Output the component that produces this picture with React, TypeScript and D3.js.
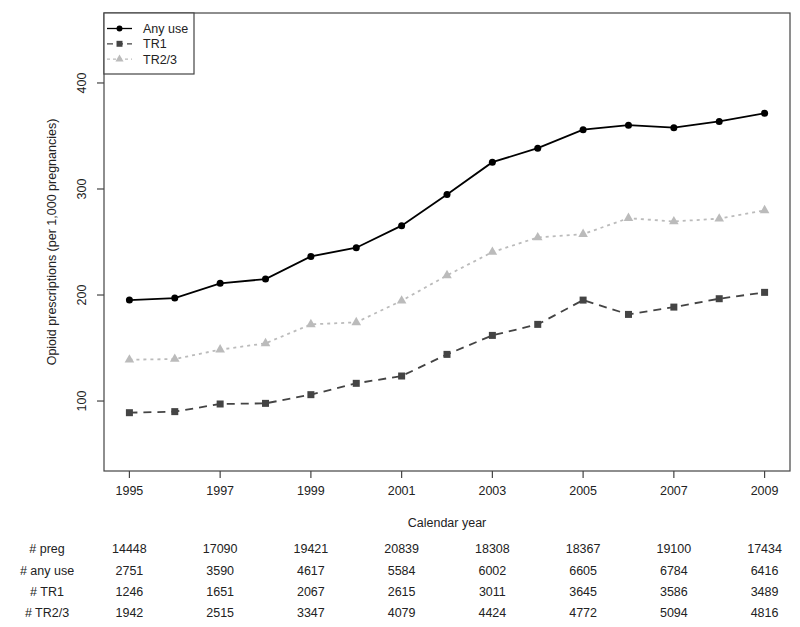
import React from "react";
import * as d3 from "d3";

const years = [1995, 1996, 1997, 1998, 1999, 2000, 2001, 2002, 2003, 2004, 2005, 2006, 2007, 2008, 2009];
const anyUse = [195.2, 197.1, 211, 215, 236.4, 244.6, 265.4, 294.9, 325.3, 338.5, 355.9, 360.2, 357.8, 363.7, 371.5];
const tr1 = [89, 90, 97.2, 97.8, 106, 116.7, 123.6, 144, 161.9, 172.3, 195.2, 181.7, 188.6, 196.5, 202.5];
const tr23 = [139, 139.6, 148.5, 154.4, 172.3, 174.2, 194.6, 218.5, 240.5, 254.3, 257.4, 272.5, 269.4, 272, 279.8];
const xTicks = [1995, 1997, 1999, 2001, 2003, 2005, 2007, 2009];
const yTicks = [100, 200, 300, 400];
const tableYears = [1995, 1997, 1999, 2001, 2003, 2005, 2007, 2009];
const tableLabels = ["# preg", "# any use", "# TR1", "# TR2/3"];
const nPreg = [14448, 17090, 19421, 20839, 18308, 18367, 19100, 17434];
const nAny = [2751, 3590, 4617, 5584, 6002, 6605, 6784, 6416];
const nTR1 = [1246, 1651, 2067, 2615, 3011, 3645, 3586, 3489];
const nTR23 = [1942, 2515, 3347, 4079, 4424, 4772, 5094, 4816];

const FONT = "'Liberation Sans', Arial, Helvetica, sans-serif";
const axisColor = "#444";

export default function App() {
  const left = 104, right = 790, top = 13, bottom = 471;
  const x = d3.scaleLinear().domain([1994.44, 2009.56]).range([left, right]);
  const y = d3.scaleLinear().domain([34, 466]).range([bottom, top]);

  const line = d3.line<number>().x((_, i) => x(years[i])).y((d) => y(d));

  const series = [
    { name: "Any use", data: anyUse, color: "#000", dash: "none", legDash: "none", width: 1.8, marker: "circle" },
    { name: "TR1", data: tr1, color: "#444", dash: "8,6", legDash: "6,4", width: 1.8, marker: "square" },
    { name: "TR2/3", data: tr23, color: "#bbb", dash: "3,4", legDash: "3,3", width: 1.8, marker: "triangle" },
  ];

  const marker = (type: string, cx: number, cy: number, color: string, key: any, k = 1) => {
    if (type === "circle") return <circle key={key} cx={cx} cy={cy} r={3.5 * k} fill={color} />;
    if (type === "square") return <rect key={key} x={cx - 3.5 * k} y={cy - 3.5 * k} width={7 * k} height={7 * k} fill={color} />;
    const s = d3.symbol().type(d3.symbolTriangle).size(40 * k * k)();
    return <path key={key} d={s || ""} transform={`translate(${cx},${cy})`} fill={color} />;
  };

  const tableRows = [nPreg, nAny, nTR1, nTR23];
  const rowY = [553, 575, 596, 617];

  return (
    <svg width={800} height={627} style={{ position: "absolute", left: 0, top: 0, background: "#fff" }} fontFamily={FONT}>
      <rect x={0} y={0} width={800} height={627} fill="#fff" />
      <rect x={left} y={top} width={right - left} height={bottom - top} fill="none" stroke={axisColor} strokeWidth={1.2} />
      {yTicks.map((t) => (
        <g key={t}>
          <line x1={left - 7} x2={left} y1={y(t)} y2={y(t)} stroke={axisColor} strokeWidth={1.2} />
          <text x={86} y={y(t)} transform={`rotate(-90, 86, ${y(t)})`} textAnchor="middle" fontSize={12.5} fill="#222">{t}</text>
        </g>
      ))}
      {xTicks.map((t) => (
        <g key={t}>
          <line x1={x(t)} x2={x(t)} y1={bottom} y2={bottom + 7} stroke={axisColor} strokeWidth={1.2} />
          <text x={x(t)} y={495} textAnchor="middle" fontSize={12.5} fill="#222">{t}</text>
        </g>
      ))}
      <text x={56} y={242} transform="rotate(-90, 56, 242)" textAnchor="middle" fontSize={12.5} fill="#222">
        Opioid prescriptions (per 1,000 pregnancies)
      </text>
      {series.map((s) => (
        <g key={s.name}>
          <path d={line(s.data) || ""} fill="none" stroke={s.color} strokeWidth={s.width} strokeDasharray={s.dash} />
          {s.data.map((d, i) => marker(s.marker, x(years[i]), y(d), s.color, i))}
        </g>
      ))}
      <rect x={left} y={top} width={90} height={61} fill="#fff" stroke={axisColor} strokeWidth={1.2} />
      {series.map((s, i) => {
        const ly = 28.5 + i * 15.3;
        return (
          <g key={s.name}>
            <line x1={107} x2={132} y1={ly} y2={ly} stroke={s.color} strokeWidth={1.3} strokeDasharray={s.legDash} />
            {marker(s.marker, 119.5, ly, s.color, "m", 0.85)}
            <text x={143} y={ly + 4.5} fontSize={12.5} fill="#222">{s.name}</text>
          </g>
        );
      })}
      <text x={447} y={527} textAnchor="middle" fontSize={12.5} fill="#222">Calendar year</text>
      {tableLabels.map((lab, r) => (
        <text key={lab} x={47} y={rowY[r]} textAnchor="middle" fontSize={12.5} fill="#222">{lab}</text>
      ))}
      {tableRows.map((row, r) =>
        row.map((v, i) => (
          <text key={`${r}-${i}`} x={x(tableYears[i])} y={rowY[r]} textAnchor="middle" fontSize={12.5} fill="#222">{v}</text>
        ))
      )}
    </svg>
  );
}
